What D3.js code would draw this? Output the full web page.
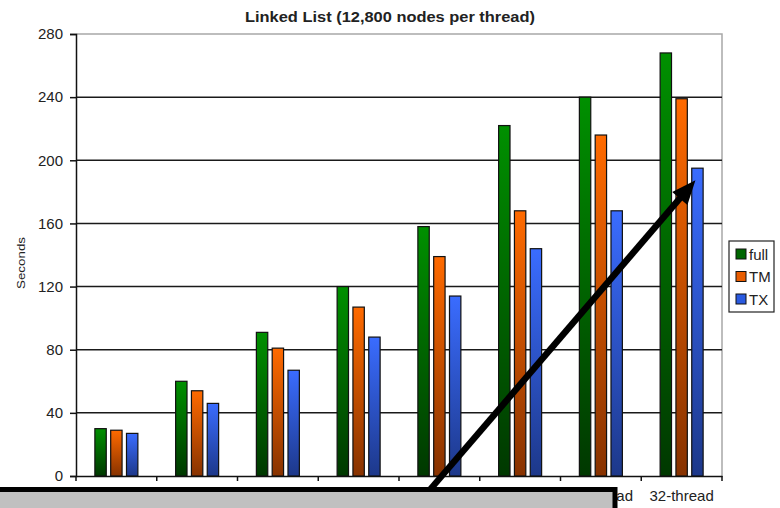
<!DOCTYPE html>
<html>
<head>
<meta charset="utf-8">
<script src="https://cdn.jsdelivr.net/npm/d3@7"></script>
<style>
  html, body { margin: 0; padding: 0; background: #fff; }
  svg { display: block; }
  text { font-family: Arial, "Liberation Sans", sans-serif; fill: #222; }
</style>
</head>
<body>
<svg id="chart" width="780" height="508"></svg>
<script>
// Data
const categories = ["4-thread", "8-thread", "12-thread", "16-thread", "20-thread", "24-thread", "28-thread", "32-thread"];
const seriesNames = ["full", "TM", "TX"];
const fullValues = [30, 60, 91, 120, 158, 222, 240, 268];
const tmValues   = [29, 54, 81, 107, 139, 168, 216, 239];
const txValues   = [27, 46, 67, 88, 114, 144, 168, 195];
const yTicks = [0, 40, 80, 120, 160, 200, 240, 280];
const titleText = "Linked List (12,800 nodes per thread)";
const yAxisLabel = "Seconds";

const seriesValues = { full: fullValues, TM: tmValues, TX: txValues };
const seriesColors = {
  full: ["#009000", "#003800"],
  TM:   ["#ff6a00", "#873200"],
  TX:   ["#3a6cff", "#1d388a"]
};
const legendColors = { full: "#006600", TM: "#e85c00", TX: "#2a5ae0" };

// Layout
const plot = { left: 76, right: 722, top: 34, bottom: 476 };

const svg = d3.select("#chart");
const defs = svg.append("defs");

seriesNames.forEach(name => {
  const g = defs.append("linearGradient")
    .attr("id", "grad-" + name)
    .attr("x1", 0).attr("y1", 0).attr("x2", 0).attr("y2", 1);
  g.append("stop").attr("offset", "0%").attr("stop-color", seriesColors[name][0]);
  g.append("stop").attr("offset", "100%").attr("stop-color", seriesColors[name][1]);
});

const x = d3.scaleBand().domain(categories).range([plot.left, plot.right]).paddingInner(0).paddingOuter(0);
const groupWidth = 43;
const xs = d3.scaleBand().domain(seriesNames).range([-groupWidth / 2, groupWidth / 2]).paddingInner(0.28);
const y = d3.scaleLinear().domain([0, 280]).range([plot.bottom, plot.top]);

// Plot frame (top and right edges)
svg.append("path")
  .attr("d", `M${plot.left},${plot.top}H${plot.right}V${plot.bottom}`)
  .attr("fill", "none").attr("stroke", "#a8a8a8").attr("stroke-width", 1.5);

// Gridlines
svg.append("g").selectAll("line")
  .data(yTicks.filter(t => t > 0 && t < 280))
  .join("line")
  .attr("x1", plot.left).attr("x2", plot.right)
  .attr("y1", d => y(d)).attr("y2", d => y(d))
  .attr("stroke", "#1a1a1a").attr("stroke-width", 1.5);

// Y axis
const yAxis = d3.axisLeft(y).tickValues(yTicks).tickSize(6).tickPadding(7);
const gy = svg.append("g").attr("transform", `translate(${plot.left},0)`).call(yAxis);
gy.select(".domain").attr("stroke", "#111").attr("stroke-width", 1.5);
gy.selectAll(".tick line").attr("stroke", "#111").attr("stroke-width", 1.5);
gy.selectAll(".tick text").attr("font-size", 15).attr("fill", "#333")
  .attr("font-family", "Arial, 'Liberation Sans', sans-serif");

// X axis
const xAxis = d3.axisBottom(x).tickSize(0).tickPadding(14);
const gx = svg.append("g").attr("transform", `translate(0,${plot.bottom})`).call(xAxis);
gx.select(".domain").attr("stroke", "#111").attr("stroke-width", 1.5);
gx.selectAll(".tick text").attr("font-size", 15).attr("fill", "#333")
  .attr("font-family", "Arial, 'Liberation Sans', sans-serif");
// category separator ticks at band edges
const edges = categories.map(c => x(c)).concat([plot.right]);
gx.append("g").selectAll("line").data(edges).join("line")
  .attr("x1", d => d).attr("x2", d => d)
  .attr("y1", 0).attr("y2", 5)
  .attr("stroke", "#111").attr("stroke-width", 1.5);

// Bars
const groups = svg.append("g").selectAll("g")
  .data(categories)
  .join("g")
  .attr("transform", d => `translate(${x(d) + x.bandwidth() / 2},0)`);

groups.selectAll("rect")
  .data((c, i) => seriesNames.map(s => ({ s, v: seriesValues[s][i] })))
  .join("rect")
  .attr("x", d => xs(d.s))
  .attr("width", xs.bandwidth())
  .attr("y", d => y(d.v))
  .attr("height", d => y(0) - y(d.v))
  .attr("fill", d => `url(#grad-${d.s})`)
  .attr("stroke", "#111")
  .attr("stroke-width", 1.2);

// Title
svg.append("text")
  .attr("x", 390).attr("y", 22)
  .attr("text-anchor", "middle")
  .attr("font-size", 15.5).attr("font-weight", "bold")
  .attr("textLength", 290).attr("lengthAdjust", "spacingAndGlyphs")
  .attr("fill", "#222")
  .text(titleText);

// Y axis label
svg.append("text")
  .attr("transform", `translate(25,${(plot.top + plot.bottom) / 2 + 8}) rotate(-90)`)
  .attr("text-anchor", "middle")
  .attr("font-size", 11.5)
  .attr("textLength", 52).attr("lengthAdjust", "spacingAndGlyphs")
  .attr("fill", "#333")
  .text(yAxisLabel);

// Legend
const legend = svg.append("g").attr("transform", "translate(729,241)");
legend.append("rect")
  .attr("width", 45).attr("height", 71)
  .attr("fill", "#fff").attr("stroke", "#222").attr("stroke-width", 1.2);
const li = legend.selectAll("g.item").data(seriesNames).join("g")
  .attr("class", "item")
  .attr("transform", (d, i) => `translate(7,${13 + i * 22.5})`);
li.append("rect")
  .attr("x", 0).attr("y", -5).attr("width", 10).attr("height", 10)
  .attr("fill", d => legendColors[d]).attr("stroke", "#111").attr("stroke-width", 1);
li.append("text")
  .attr("x", 13).attr("y", 5.5)
  .attr("font-size", 15).attr("fill", "#333")
  .text(d => d);

// Callout arrow pointing at the TX bar of the last group
const lastCat = categories[categories.length - 1];
const tipX = x(lastCat) + x.bandwidth() / 2 + xs("TX") + xs.bandwidth() / 2 - 2;
const tipY = y(txValues[txValues.length - 1]) + 12;
const tailX = 428, tailY = 492;
const ang = Math.atan2(tipY - tailY, tipX - tailX);
const headLen = 24, headHalf = 10;
const baseX = tipX - headLen * Math.cos(ang), baseY = tipY - headLen * Math.sin(ang);
svg.append("line")
  .attr("x1", tailX).attr("y1", tailY)
  .attr("x2", baseX + 2 * Math.cos(ang)).attr("y2", baseY + 2 * Math.sin(ang))
  .attr("stroke", "#000").attr("stroke-width", 6.5);
svg.append("path")
  .attr("d", d3.line()([
    [tipX, tipY],
    [baseX + headHalf * Math.sin(ang), baseY - headHalf * Math.cos(ang)],
    [baseX - headHalf * Math.sin(ang), baseY + headHalf * Math.cos(ang)]
  ]) + "Z")
  .attr("fill", "#000");

// Callout box
svg.append("rect")
  .attr("x", -5).attr("y", 489.5)
  .attr("width", 620).attr("height", 40)
  .attr("fill", "#c0c0c0")
  .attr("stroke", "#000").attr("stroke-width", 5);
</script>
</body>
</html>
